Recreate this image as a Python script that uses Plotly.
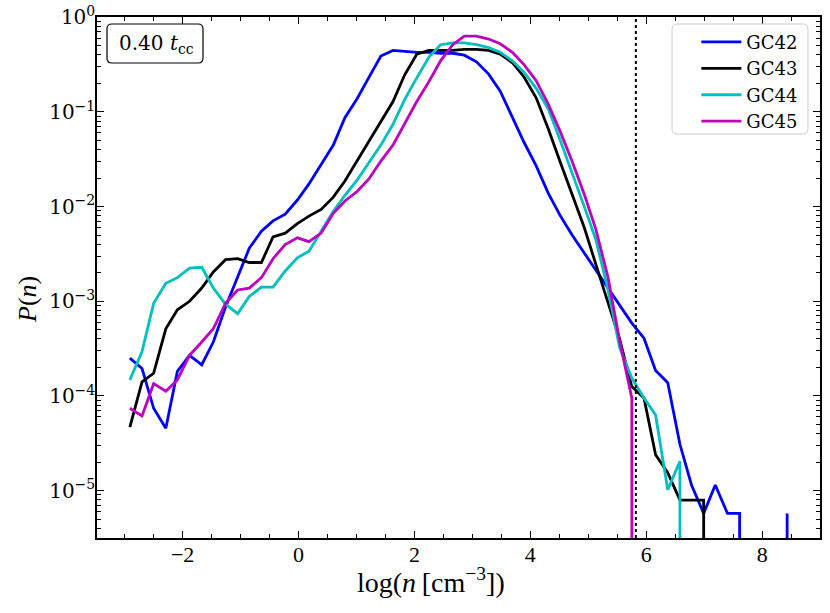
import numpy as np
import plotly.graph_objects as go

# bin centres of log(n)
log_n = [-2.91, -2.70, -2.50, -2.29, -2.09, -1.88, -1.67, -1.47, -1.26, -1.05,
         -0.85, -0.64, -0.44, -0.23, -0.02, 0.18, 0.39, 0.60, 0.80, 1.01,
         1.21, 1.42, 1.63, 1.83, 2.04, 2.25, 2.45, 2.66, 2.86, 3.07,
         3.28, 3.48, 3.69, 3.89, 4.10, 4.31, 4.51, 4.72, 4.93, 5.13,
         5.34, 5.54, 5.75, 5.96, 6.16, 6.37, 6.58, 6.78, 6.99, 7.19,
         7.40, 7.61, 7.81, 8.02, 8.22, 8.43]

# log10 P(n); None = empty bin
logP_GC42 = [-3.60, -3.71, -4.13, -4.34, -3.74, -3.57, -3.67, -3.43, -3.06, -2.74,
             -2.44, -2.26, -2.15, -2.08, -1.93, -1.76, -1.56, -1.35, -1.06, -0.86,
             -0.64, -0.41, -0.35, -0.36, -0.37, -0.37, -0.38, -0.38, -0.40, -0.47,
             -0.60, -0.78, -1.06, -1.32, -1.57, -1.86, -2.09, -2.30, -2.49, -2.67,
             -2.86, -3.05, -3.23, -3.39, -3.73, -3.86, -4.51, -4.94, -5.24, -4.94,
             -5.24, -5.24, None, None, None, -5.24]
logP_GC43 = [-4.33, -3.85, -3.76, -3.29, -3.09, -3.00, -2.86, -2.69, -2.56, -2.55,
             -2.59, -2.59, -2.32, -2.28, -2.18, -2.10, -2.03, -1.90, -1.73, -1.52,
             -1.31, -1.10, -0.89, -0.61, -0.39, -0.35, -0.35, -0.35, -0.34, -0.34,
             -0.35, -0.39, -0.48, -0.63, -0.85, -1.18, -1.52, -1.87, -2.22, -2.61,
             -3.02, -3.40, -3.90, -4.02, -4.62, -4.81, -5.10, -5.10, -5.10, None,
             None, None, None, None, None, None]
logP_GC44 = [-3.83, -3.53, -3.02, -2.81, -2.75, -2.65, -2.64, -2.86, -3.03, -3.13,
             -2.95, -2.85, -2.85, -2.68, -2.54, -2.47, -2.26, -2.05, -1.88, -1.72,
             -1.54, -1.35, -1.13, -0.87, -0.64, -0.42, -0.29, -0.27, -0.27, -0.29,
             -0.32, -0.37, -0.46, -0.58, -0.75, -0.97, -1.29, -1.64, -2.00, -2.35,
             -2.88, -3.49, -3.81, -4.02, -4.20, -4.99, -4.69, None, None, None,
             None, None, None, None, None, None]
logP_GC45 = [-4.13, -4.21, -3.87, -3.95, -3.83, -3.57, -3.43, -3.29, -3.02, -2.88,
             -2.86, -2.75, -2.55, -2.40, -2.33, -2.37, -2.28, -2.07, -1.94, -1.84,
             -1.71, -1.52, -1.35, -1.13, -0.89, -0.68, -0.46, -0.29, -0.20, -0.20,
             -0.23, -0.28, -0.37, -0.50, -0.67, -0.92, -1.20, -1.52, -1.87, -2.24,
             -2.75, -3.42, -4.02, None, None, None, None, None, None, None,
             None, None, None, None, None, None]

series_names = ["GC42", "GC43", "GC44", "GC45"]
series_colors = ["#0000ff", "#000000", "#00bfbf", "#bf00bf"]
series_logP = [logP_GC42, logP_GC43, logP_GC44, logP_GC45]

n_crit = 5.82          # dotted vertical line
time_label = "0.40"

y_tick_exp = [0, -1, -2, -3, -4, -5]
x_tick_vals = [-2, 0, 2, 4, 6, 8]

SERIF = "DejaVu Serif"
TIMES = "Liberation Serif"

fig = go.Figure()
for name, col, lp in zip(series_names, series_colors, series_logP):
    # empty bins are clipped to a tiny value (like matplotlib's log clipping)
    p = [10.0 ** v if v is not None else 1e-300 for v in lp]
    fig.add_trace(go.Scatter(x=log_n, y=p, mode="lines", name=name,
                             line=dict(color=col, width=2.8)))

L, R, T, B = 97, 820, 17, 538      # plot area in page pixels
W, H = 830, 613                    # figure size


def px2paper(px, py):
    return (px - L) / (R - L), (B - py) / (B - T)


def rounded_rect(x0, y0, x1, y1, r):
    def P(px, py):
        a, b = px2paper(px, py)
        return f"{a:.5f},{b:.5f}"
    return (f"M{P(x0 + r, y0)} L{P(x1 - r, y0)} Q{P(x1, y0)} {P(x1, y0 + r)} "
            f"L{P(x1, y1 - r)} Q{P(x1, y1)} {P(x1 - r, y1)} "
            f"L{P(x0 + r, y1)} Q{P(x0, y1)} {P(x0, y1 - r)} "
            f"L{P(x0, y0 + r)} Q{P(x0, y0)} {P(x0 + r, y0)} Z")


fig.add_shape(type="line", xref="x", yref="paper", x0=n_crit, x1=n_crit, y0=0, y1=1,
              line=dict(color="black", width=2, dash="dot"))

# legend frame
fig.add_shape(type="path", xref="paper", yref="paper",
              path=rounded_rect(672, 24, 808, 134, 5),
              line=dict(color="#cccccc", width=1), fillcolor="rgba(255,255,255,0.8)",
              layer="above")
# label box
fig.add_shape(type="path", xref="paper", yref="paper",
              path=rounded_rect(107, 24, 203, 63, 5),
              line=dict(color="black", width=1.2), fillcolor="white", layer="above")

cx, cy = px2paper(156, 44)
fig.add_annotation(x=cx, y=cy, xref="paper", yref="paper", showarrow=False,
                   xanchor="center", yanchor="middle",
                   text=f"{time_label} <i>t</i><sub>cc</sub>",
                   font=dict(family=SERIF, size=20, color="black"))

# axis titles
tx, ty = px2paper(431, 580)
fig.add_annotation(x=tx, y=ty, xref="paper", yref="paper", showarrow=False,
                   xanchor="center", yanchor="middle",
                   text="log(<i>n</i>\u2009[cm<sup>\u22123</sup>])",
                   font=dict(family=TIMES, size=28, color="black"))
yx, yy = px2paper(27, 300)
fig.add_annotation(x=yx, y=yy, xref="paper", yref="paper", showarrow=False,
                   xanchor="center", yanchor="middle", textangle=-90,
                   text="<i>P</i>(<i>n</i>)",
                   font=dict(family=TIMES, size=26, color="black"))

minor_y = [k * 10.0 ** e for e in range(-6, 0) for k in range(2, 10)]

fig.update_layout(
    width=W, height=H,
    margin=dict(l=L, r=W - R, t=T, b=H - B, autoexpand=False),
    paper_bgcolor="white", plot_bgcolor="white",
    showlegend=True,
    legend=dict(x=0.977, y=0.987, xanchor="right", yanchor="top",
                bgcolor="rgba(0,0,0,0)", borderwidth=0,
                font=dict(family=SERIF, size=18, color="black"),
                tracegroupgap=0, itemwidth=40),
    font=dict(family=SERIF, color="black"),
)

fig.update_xaxes(
    range=[-3.477, 8.997], showgrid=False, zeroline=False, automargin=False,
    showline=True, linecolor="black", linewidth=1.5, mirror="allticks",
    ticks="inside", ticklen=7, tickwidth=1.3, tickcolor="black",
    tickvals=x_tick_vals, ticktext=[("\u2212" + str(-v)) if v < 0 else str(v) for v in x_tick_vals],
    tickfont=dict(family=TIMES, size=22, color="black"), ticklabelstandoff=-4,
    minor=dict(dtick=0.5, tick0=0, ticks="inside", ticklen=4, tickwidth=1.1, tickcolor="black"),
)

fig.update_yaxes(
    type="log", range=[-5.5, 0.003], showgrid=False, zeroline=False, automargin=False,
    showline=True, linecolor="black", linewidth=1.5, mirror="allticks",
    ticks="inside", ticklen=7, tickwidth=1.3, tickcolor="black",
    tickvals=[10.0 ** e for e in y_tick_exp],
    ticktext=["10<sup>" + (("\u2212" + str(-e)) if e < 0 else str(e)) + "</sup>" for e in y_tick_exp],
    tickfont=dict(family=SERIF, size=20, color="black"), ticklabelstandoff=-4,
    ticklabeloverflow="allow",
    minor=dict(tickvals=minor_y, ticks="inside", ticklen=4, tickwidth=1.1, tickcolor="black"),
)

fig.write_html("out.html", config={"displayModeBar": False},
               post_script="document.body.style.margin='0';document.body.style.overflow='hidden';")
